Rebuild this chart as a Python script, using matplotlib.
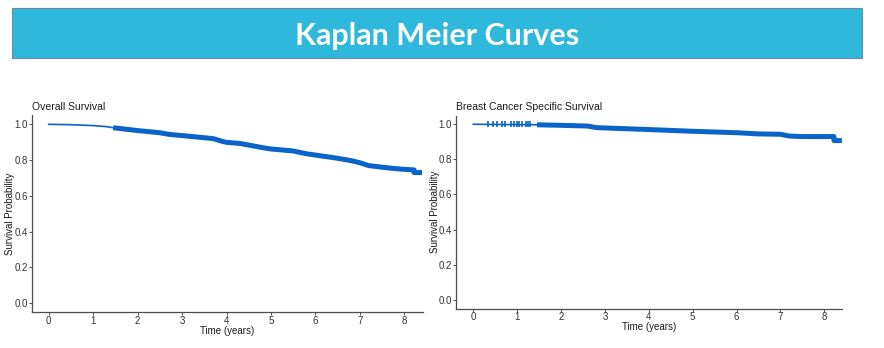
import numpy as np
import matplotlib.pyplot as plt
from matplotlib.patches import Rectangle

# Overall survival
os_time = [0, 0.5, 1.0, 1.3, 1.45, 2.0, 2.5, 2.7, 3.0, 3.5, 3.7, 3.9, 4.0, 4.3, 4.5,
           4.8, 5.0, 5.5, 5.8, 6.0, 6.5, 6.8, 7.0, 7.2, 7.5, 7.8, 8.0, 8.22, 8.22, 8.4]
os_surv = [1.0, 0.998, 0.993, 0.987, 0.981, 0.965, 0.953, 0.944, 0.937, 0.925, 0.92,
           0.905, 0.899, 0.893, 0.884, 0.87, 0.862, 0.851, 0.835, 0.828, 0.81, 0.797,
           0.785, 0.769, 0.76, 0.752, 0.748, 0.745, 0.73, 0.73]
os_dense_from = 1.45

# Breast cancer specific survival
bc_time = [0, 1.45, 2.0, 2.6, 2.8, 3.0, 4.0, 4.8, 5.0, 5.5, 6.0, 6.5, 7.0, 7.2, 7.5,
           8.0, 8.22, 8.22, 8.4]
bc_surv = [1.0, 0.997, 0.994, 0.99, 0.981, 0.979, 0.97, 0.962, 0.96, 0.956, 0.952,
           0.945, 0.943, 0.933, 0.93, 0.93, 0.93, 0.907, 0.907]
bc_dense_from = 1.45
bc_censor = [0.33, 0.45, 0.55, 0.65, 0.73, 0.85, 0.92, 1.0, 1.05, 1.12, 1.2, 1.25, 1.3]

xticks = [0, 1, 2, 3, 4, 5, 6, 7, 8]
yticks = [0.0, 0.2, 0.4, 0.6, 0.8, 1.0]

blue = '#0a63c9'
grey = '#4d4d4d'

plt.rcParams['font.family'] = ['Liberation Sans', 'DejaVu Sans']

fig = plt.figure(figsize=(8.84, 3.48), dpi=100)

# banner
fig.patches.append(Rectangle((12 / 884, 1 - 58 / 348), 850 / 884, 50 / 348,
                             transform=fig.transFigure, facecolor='#2eb8dc',
                             edgecolor='#6a8fa0', linewidth=0.8))
fig.text(437 / 884, 1 - 36 / 348, 'Kaplan Meier Curves', ha='center', va='center',
         color='white', fontsize=22, fontweight='bold', family=['Lato', 'DejaVu Sans'])


def km_panel(ax, t, s, dense_from, title, xlim, ylab_x, censor=None):
    t = np.array(t)
    s = np.array(s)
    thin = t <= dense_from
    ax.plot(t[thin], s[thin], color=blue, lw=1.2)
    thick = t >= dense_from
    ax.plot(t[thick], s[thick], color=blue, lw=3.6, solid_capstyle='butt')
    if censor is not None:
        ax.plot(censor, np.ones(len(censor)), ls='none', marker='|', color=blue,
                markersize=4, mew=1.2)
    ax.set_xlim(*xlim)
    ax.set_ylim(-0.05, 1.05)
    ax.set_xticks(xticks)
    ax.set_yticks(yticks)
    ax.set_yticklabels(['%.1f' % v for v in yticks])
    for side in ['top', 'right']:
        ax.spines[side].set_visible(False)
    for side in ['left', 'bottom']:
        ax.spines[side].set_color(grey)
        ax.spines[side].set_linewidth(0.9)
    ax.tick_params(colors=grey, labelcolor='#333333', labelsize=7, length=2,
                   width=0.7, pad=0.8)
    ax.set_xlabel('Time (years)', fontsize=7, color='#1a1a1a', labelpad=0)
    ax.set_ylabel('Survival Probability', fontsize=7, color='#1a1a1a')
    ax.yaxis.set_label_coords(ylab_x, 0.5)
    ax.set_title(title, loc='left', fontsize=7.5, color='#1a1a1a', pad=4, x=0.0)


ax1 = fig.add_axes([32 / 884, 0.1037, 390.7 / 884, 0.5647])
km_panel(ax1, os_time, os_surv, os_dense_from, 'Overall Survival', (-0.376, 8.414),
         -0.044)

ax2 = fig.add_axes([455.7 / 884, 0.1135, 386.6 / 884, 0.5546])
km_panel(ax2, bc_time, bc_surv, bc_dense_from, 'Breast Cancer Specific Survival',
         (-0.401, 8.41), -0.041, censor=bc_censor)

fig.savefig('out.png', dpi=100)
